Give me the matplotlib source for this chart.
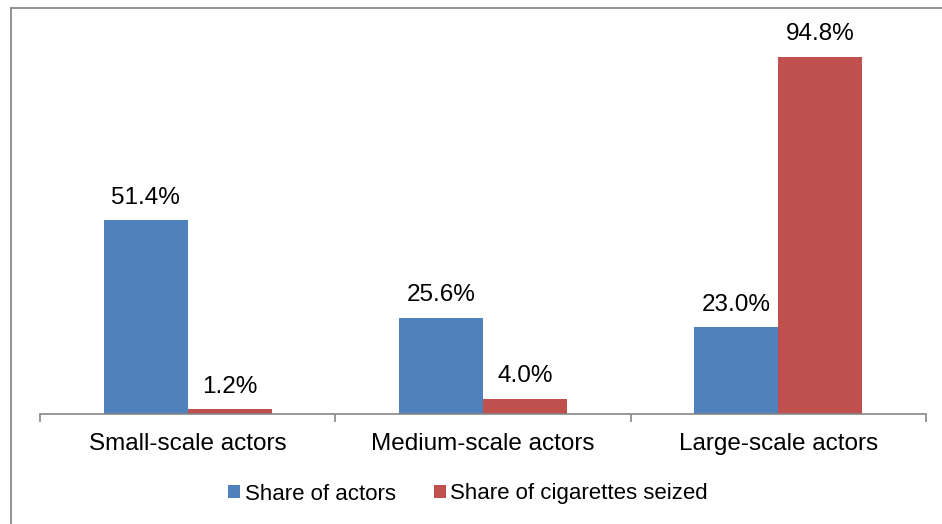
import matplotlib
matplotlib.use("Agg")
import matplotlib.pyplot as plt
from matplotlib.lines import Line2D
import numpy as np

plt.rcParams['font.family'] = ['Liberation Sans', 'DejaVu Sans']

categories = ["Small-scale actors", "Medium-scale actors", "Large-scale actors"]
share_actors = [51.4, 25.6, 23.0]
share_cigarettes = [1.2, 4.0, 94.8]
series_names = ["Share of actors", "Share of cigarettes seized"]
colors = ["#4F81BD", "#C0504D"]

W, H = 942, 524
fig = plt.figure(figsize=(W / 100, H / 100), dpi=100)
ax = fig.add_axes([40 / W, (H - 414) / H, 886 / W, 376.6 / H])

x = np.arange(len(categories))
bw = 0.2845
b1 = ax.bar(x - bw / 2, share_actors, bw, color=colors[0], label=series_names[0])
b2 = ax.bar(x + bw / 2, share_cigarettes, bw, color=colors[1], label=series_names[1])

fs = 17.5
for bars, vals in ((b1, share_actors), (b2, share_cigarettes)):
    for r, v in zip(bars, vals):
        ax.annotate(f"{v:.1f}%", (r.get_x() + r.get_width() / 2, r.get_height()),
                    xytext=(0, 8.5), textcoords="offset points", ha="center", va="bottom",
                    fontsize=fs, color="black")

ax.set_xlim(-0.5, 2.5)
ax.set_ylim(0, 100)
ax.set_yticks([])
for s in ("top", "right", "left"):
    ax.spines[s].set_visible(False)
ax.spines["bottom"].set_color("#868686")
ax.spines["bottom"].set_linewidth(1.2)
ax.set_xticks(x)
ax.set_xticklabels(categories, fontsize=fs)
ax.tick_params(axis="x", which="major", length=0, pad=14)
ax.set_xticks([-0.5, 0.5, 1.5, 2.5], minor=True)
ax.tick_params(axis="x", which="minor", length=6, width=1.2, color="#868686")

fig.legend(loc="center", bbox_to_anchor=(468 / W, 1 - 494 / H), ncol=2, frameon=False,
           fontsize=16, handlelength=0.55, handleheight=0.55, handletextpad=0.2,
           columnspacing=1.7, borderaxespad=0)

fig.add_artist(Line2D([11 / W, 11 / W], [0, 1 - 8 / H], transform=fig.transFigure,
                      color="#898989", lw=1.3))
fig.add_artist(Line2D([11 / W, 1], [1 - 8 / H, 1 - 8 / H], transform=fig.transFigure,
                      color="#898989", lw=1.3))

fig.savefig("out.png", dpi=100)
